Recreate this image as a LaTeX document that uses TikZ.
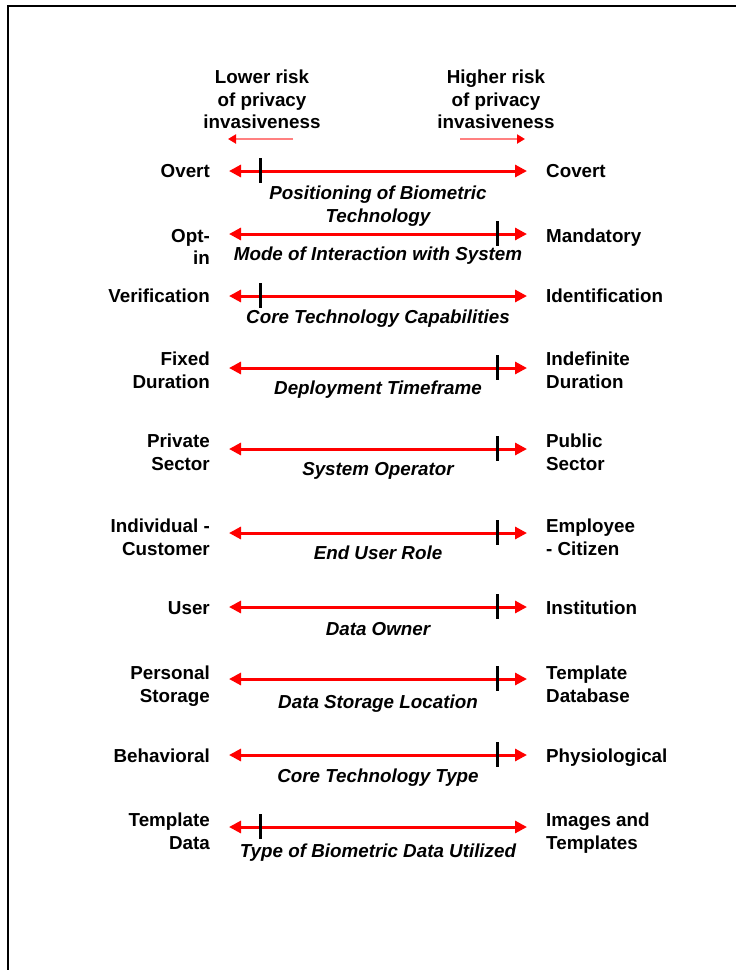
\documentclass[tikz,border=0pt]{standalone}
\usepackage{fontspec}
\setmainfont{Liberation Sans}
\usetikzlibrary{arrows.meta}
\definecolor{riskred}{RGB}{255,0,0}
\definecolor{riskpink}{RGB}{255,128,128}
\begin{document}
\begin{tikzpicture}[x=1pt,y=-1pt,
 lbl/.style={inner sep=0pt, font=\fontsize{18.8}{22.5}\selectfont\bfseries},
 leftlbl/.style={lbl, anchor=north east, align=right},
 rightlbl/.style={lbl, anchor=north west, align=left},
 hdr/.style={lbl, anchor=north, align=center},
 captext/.style={inner sep=0pt, anchor=north, align=center, font=\fontsize{18.8}{22.5}\selectfont\bfseries\itshape},
 scalearrow/.style={draw=riskred, line width=3pt, {Triangle[length=12pt,width=12pt]}-{Triangle[length=12pt,width=12pt]}},
 marker/.style={draw=black, line width=3pt},
 hint/.style={draw=riskpink, line width=2.5pt, -{Triangle[length=8pt,width=9pt,color=riskred]}}
]
\useasboundingbox (0,0) rectangle (736,970);
\draw[line width=2.2pt] (8,975) -- (8,6) -- (742,6);

\node[hdr] (lowhdr) at (262,70) {Lower risk\\of privacy\\invasiveness};
\node[hdr] (highhdr) at (496,70) {Higher risk\\of privacy\\invasiveness};
\coordinate (h1s) at (293,139); \coordinate (h1e) at (228,139);
\coordinate (h2s) at (460,139); \coordinate (h2e) at (525,139);
\draw[hint] (h1s) -- (h1e);
\draw[hint] (h2s) -- (h2e);

\foreach \i/\y/\ly/\t/\l/\r/\c/\cy in {
1/171/171/260/{Overt}/{Covert}/{Positioning of Biometric\\Technology}/193,
2/234/236/497/{Opt-\\in}/{Mandatory}/{Mode of Interaction with System}/254,
3/296/296/260/{Verification}/{Identification}/{Core Technology Capabilities}/317,
4/368/359/497/{Fixed\\Duration}/{Indefinite\\Duration}/{Deployment Timeframe}/388,
5/449/441/497/{Private\\Sector}/{Public\\Sector}/{System Operator}/469,
6/533/526/497/{Individual -\\Customer}/{Employee\\- Citizen}/{End User Role}/553,
7/607/608/497/{User}/{Institution}/{Data Owner}/629,
8/679/673/497/{Personal\\Storage}/{Template\\Database}/{Data Storage Location}/702,
9/755/756/497/{Behavioral}/{Physiological}/{Core Technology Type}/776,
10/827/820/260/{Template\\Data}/{Images and\\Templates}/{Type of Biometric Data Utilized}/851}{
  \coordinate (s\i) at (229,\y);
  \coordinate (e\i) at (527,\y);
  \draw[scalearrow] (s\i) -- (e\i);
  \coordinate (ta\i) at (\t,\y-13);
  \coordinate (tb\i) at (\t,\y+12);
  \draw[marker] (ta\i) -- (tb\i);
  \node[leftlbl] (L\i) at (210,\ly-7) {\l};
  \node[rightlbl] (R\i) at (546,\ly-7) {\r};
  \node[captext] (C\i) at (378,\cy-7) {\c};
}
\end{tikzpicture}
\end{document}
